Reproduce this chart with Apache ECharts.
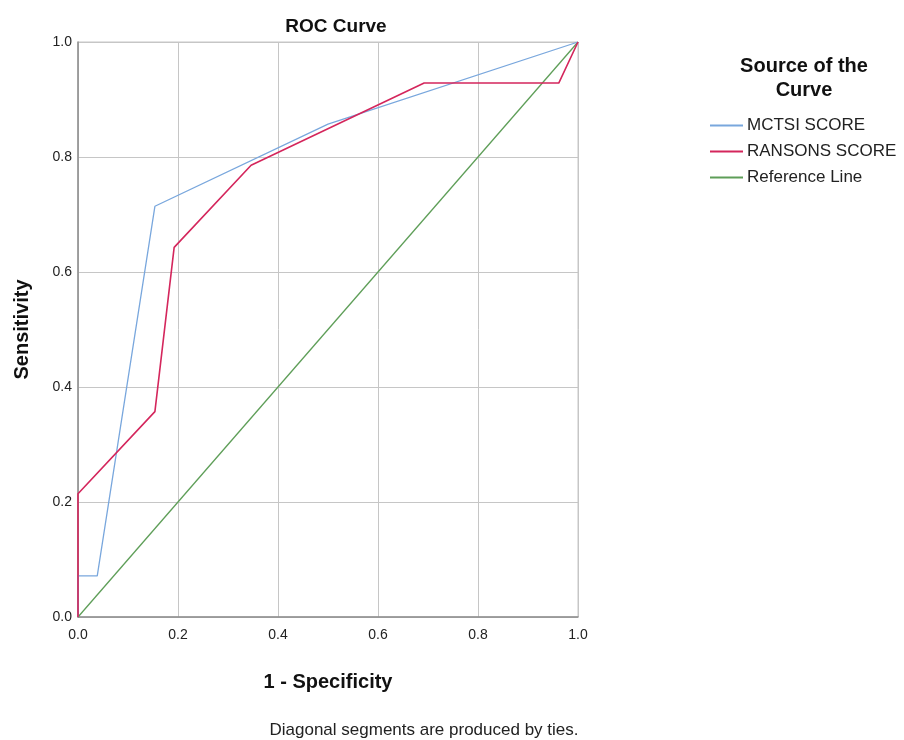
<!DOCTYPE html>
<html>
<head>
<meta charset="utf-8">
<title>ROC Curve</title>
<script src="https://cdn.jsdelivr.net/npm/echarts@6/dist/echarts.min.js"></script>
<style>
  html, body { margin: 0; padding: 0; background: #fff; }
  #chart { width: 904px; height: 740px; }
</style>
</head>
<body>
<div id="chart"></div>
<script>
// ROC points: [1 - specificity, sensitivity]
const mctsiPoints = [
  [0, 0], [0, 0.0714], [0.0385, 0.0714], [0.1538, 0.7143],
  [0.5, 0.8571], [1, 1]
];
const ransonsPoints = [
  [0, 0], [0, 0.2143], [0.1538, 0.3571], [0.1923, 0.6429],
  [0.3462, 0.7857], [0.6923, 0.9286], [0.9615, 0.9286], [1, 1]
];
const referencePoints = [[0, 0], [1, 1]];
const seriesNames = ['MCTSI SCORE', 'RANSONS SCORE', 'Reference Line'];
const tickValues = [0, 0.2, 0.4, 0.6, 0.8, 1.0];

const FONT = '"Liberation Sans", Arial, sans-serif';

const chart = echarts.init(document.getElementById('chart'), null, { renderer: 'canvas' });

const axisCommon = {
  type: 'value',
  min: tickValues[0],
  max: tickValues[tickValues.length - 1],
  interval: 0.2,
  axisLine: { show: true, lineStyle: { color: '#8c8c8c', width: 1.5 } },
  axisTick: { show: false },
  splitLine: { show: true, lineStyle: { color: '#c6c6c6', width: 1 } },
  axisLabel: {
    color: '#222',
    fontFamily: FONT,
    fontSize: 14,
    formatter: v => v.toFixed(1)
  },
  nameTextStyle: { fontFamily: FONT, fontWeight: 'bold', fontSize: 20, color: '#111' }
};

chart.setOption({
  animation: false,
  backgroundColor: '#fff',
  title: {
    text: 'ROC Curve',
    left: 331,
    top: 12,
    textAlign: 'center',
    textStyle: { fontFamily: FONT, fontWeight: 'bold', fontSize: 19, color: '#111' }
  },
  grid: { left: 78, right: 326, top: 42, bottom: 123, show: true, borderColor: '#c6c6c6', borderWidth: 1 },
  xAxis: Object.assign({}, axisCommon, {
    name: '1 - Specificity',
    nameLocation: 'middle',
    nameGap: 55,
    axisLabel: Object.assign({}, axisCommon.axisLabel, { margin: 11 })
  }),
  yAxis: Object.assign({}, axisCommon, {
    name: 'Sensitivity',
    nameLocation: 'middle',
    nameGap: 46,
    axisLabel: Object.assign({}, axisCommon.axisLabel, { margin: 6 })
  }),
  legend: {
    orient: 'vertical',
    left: 710,
    top: 113,
    padding: 0,
    icon: 'rect',
    itemWidth: 33,
    itemHeight: 2,
    itemGap: 1,
    data: seriesNames,
    textStyle: { fontFamily: FONT, fontSize: 17, lineHeight: 18, color: '#222', padding: [7, 0, 0, -1] }
  },
  graphic: [
    {
      type: 'text',
      x: 804,
      y: 54,
      style: {
        text: 'Source of the\nCurve',
        textAlign: 'center',
        font: 'bold 20px ' + FONT,
        lineHeight: 24,
        fill: '#111'
      }
    },
    {
      type: 'text',
      x: 424,
      y: 722,
      style: {
        text: 'Diagonal segments are produced by ties.',
        textAlign: 'center',
        font: '17px ' + FONT,
        fill: '#222'
      }
    }
  ],
  series: [
    {
      name: seriesNames[0],
      type: 'line',
      data: mctsiPoints,
      symbol: 'none',
      lineStyle: { color: '#79a7dd', width: 1.3 },
      itemStyle: { color: '#79a7dd' },
      z: 3
    },
    {
      name: seriesNames[1],
      type: 'line',
      data: ransonsPoints,
      symbol: 'none',
      lineStyle: { color: '#d4265c', width: 1.6 },
      itemStyle: { color: '#d4265c' },
      z: 4
    },
    {
      name: seriesNames[2],
      type: 'line',
      data: referencePoints,
      symbol: 'none',
      lineStyle: { color: '#5e9e58', width: 1.3 },
      itemStyle: { color: '#5e9e58' },
      z: 2
    }
  ]
});
</script>
</body>
</html>
